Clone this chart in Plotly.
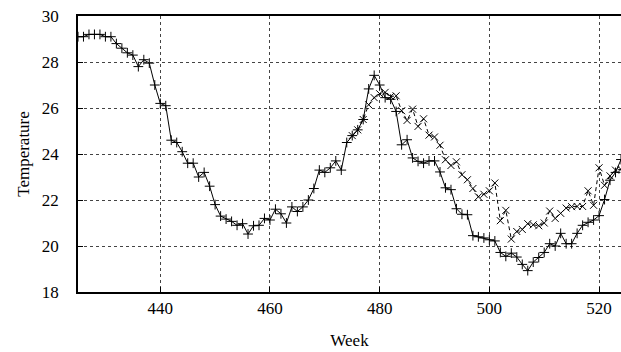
import plotly.graph_objects as go

weeks_a = list(range(425, 525))
temp_a = [29.1, 29.1, 29.2, 29.2, 29.2, 29.1, 29.1, 28.8, 28.6, 28.4,
          28.3, 27.8, 28.1, 27.95, 27.0, 26.2, 26.1, 24.6, 24.5, 24.1,
          23.6, 23.6, 23.0, 23.2, 22.6, 21.8, 21.3, 21.17, 21.07, 20.9,
          20.97, 20.52, 20.88, 20.9, 21.2, 21.13, 21.6, 21.4, 21.0, 21.7,
          21.5, 21.7, 22.0, 22.5, 23.3, 23.2, 23.4, 23.7, 23.3, 24.5,
          24.8, 25.05, 25.5, 26.83, 27.42, 27.0, 26.45, 26.38, 25.85, 24.4,
          24.62, 23.83, 23.68, 23.6, 23.7, 23.7, 23.22, 22.53, 22.45, 21.62,
          21.38, 21.36, 20.45, 20.4, 20.35, 20.27, 20.22, 19.72, 19.55, 19.69,
          19.52, 19.2, 18.93, 19.3, 19.5, 19.72, 20.1, 20.0, 20.55, 20.1,
          20.1, 20.55, 20.9, 21.03, 21.13, 21.32, 22.02, 22.86, 23.2, 23.76]

weeks_b = list(range(475, 525))
temp_b = [24.8, 25.05, 25.5, 26.14, 26.45, 26.62, 26.68, 26.5, 26.53, 25.88,
          25.46, 25.95, 25.2, 25.53, 24.82, 24.74, 24.38, 23.75, 23.5, 23.66,
          23.1, 22.88, 22.5, 22.14, 22.25, 22.4, 22.74, 21.1, 21.55, 20.3,
          20.63, 20.72, 20.97, 20.92, 20.88, 21.0, 21.52, 21.2, 21.42, 21.65,
          21.71, 21.72, 21.72, 22.4, 21.77, 23.4, 22.64, 23.05, 23.3, 23.33]

x_ticks = [440, 460, 480, 500, 520]
y_ticks = [18, 20, 22, 24, 26, 28, 30]

FONT = "Liberation Serif"

fig = go.Figure()
fig.add_trace(go.Scatter(
    x=weeks_b, y=temp_b, mode="lines+markers",
    line=dict(color="black", width=1, dash="4px,3px"),
    marker=dict(symbol="x-thin", size=7, line=dict(color="black", width=1)),
    showlegend=False, cliponaxis=True))
fig.add_trace(go.Scatter(
    x=weeks_a, y=temp_a, mode="lines+markers",
    line=dict(color="black", width=1),
    marker=dict(symbol="cross-thin", size=7, line=dict(color="black", width=1)),
    showlegend=False, cliponaxis=True))

fig.update_layout(
    width=621, height=352,
    margin=dict(l=78, r=0, t=16, b=60),
    paper_bgcolor="white", plot_bgcolor="white",
    font=dict(family=FONT, size=17, color="black"),
)
fig.update_xaxes(
    range=[425, 524], tickvals=x_ticks, ticktext=[str(v) for v in x_ticks],
    showgrid=True, gridcolor="#444", griddash="dot", gridwidth=1,
    showline=True, linecolor="black", linewidth=1.5, mirror=True,
    ticks="inside", ticklen=5, tickcolor="black", tickwidth=1,
    zeroline=False,
    title=dict(text="Week", font=dict(family=FONT, size=17, color="black"), standoff=17),
)
fig.update_yaxes(
    range=[18, 30], tickvals=y_ticks, ticktext=[str(v) for v in y_ticks],
    showgrid=True, gridcolor="#444", griddash="dot", gridwidth=1,
    showline=True, linecolor="black", linewidth=1.5, mirror=False,
    ticks="inside", ticklen=5, tickcolor="black", tickwidth=1,
    ticklabelstandoff=14,
    zeroline=False,
    title=dict(text="Temperature", font=dict(family=FONT, size=17, color="black"), standoff=8),
)

fig.write_html("out.html")
